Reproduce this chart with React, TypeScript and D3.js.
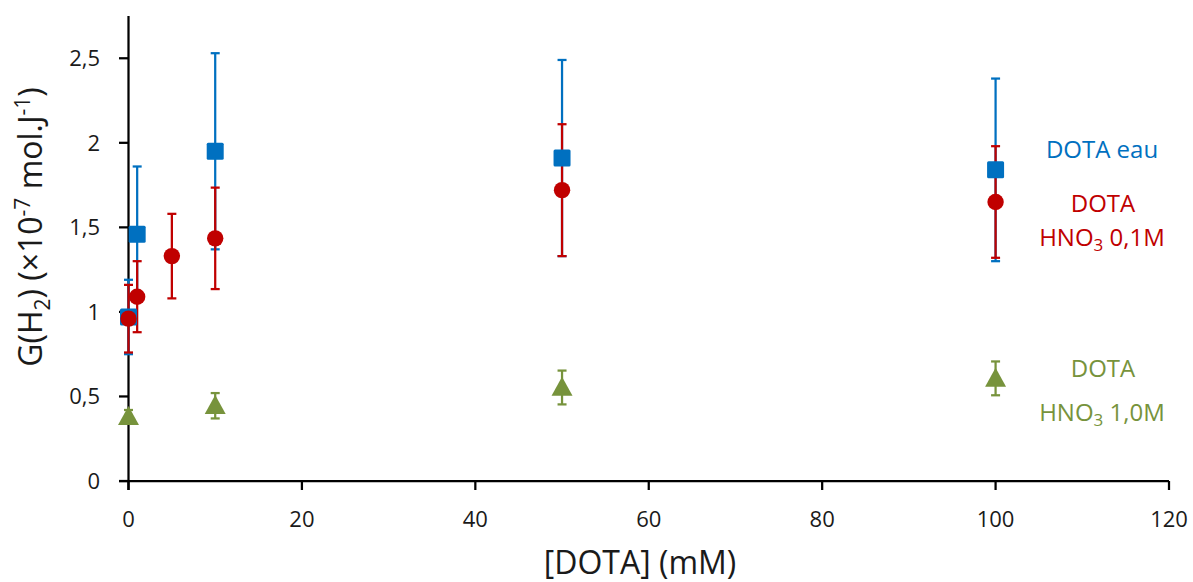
import React from "react";
import * as d3 from "d3";

// ---- data ----
const concEau = [0, 1, 10, 50, 100];
const gEau = [0.97, 1.46, 1.95, 1.91, 1.84];
const errEau = [0.22, 0.4, 0.58, 0.58, 0.54];

const concHno01 = [0, 1, 5, 10, 50, 100];
const gHno01 = [0.96, 1.09, 1.33, 1.435, 1.72, 1.65];
const errHno01 = [0.2, 0.21, 0.25, 0.3, 0.39, 0.33];

const concHno10 = [0, 10, 50, 100];
const gHno10 = [0.38, 0.445, 0.553, 0.607];
const errHno10 = [0.04, 0.075, 0.1, 0.1];

const xTicks = [0, 20, 40, 60, 80, 100, 120];
const yTicks = [0, 0.5, 1, 1.5, 2, 2.5];

const BLUE = "#0070C0";
const RED = "#C00000";
const GREEN = "#77933C";
const FONT = "'Open Sans', 'Noto Sans', sans-serif";

const W = 1193;
const H = 582;

export default function App() {
  const x = d3.scaleLinear().domain([0, 120]).range([128.5, 1169]);
  const y = d3.scaleLinear().domain([0, 2.75]).range([481, 16]);

  const series = [
    { conc: concEau, g: gEau, err: errEau, color: BLUE, shape: "square" },
    { conc: concHno01, g: gHno01, err: errHno01, color: RED, shape: "circle" },
    { conc: concHno10, g: gHno10, err: errHno10, color: GREEN, shape: "triangle" },
  ];

  const capHalf = 4.5;

  const errorBars = series.map((s, si) => (
    <g key={"e" + si} stroke={s.color} strokeWidth={2.25} fill="none">
      {s.conc.map((c, i) => {
        const cx = x(c);
        const y1 = y(s.g[i] + s.err[i]);
        const y2 = y(s.g[i] - s.err[i]);
        return (
          <g key={i}>
            <line x1={cx} x2={cx} y1={y1} y2={y2} />
            <line x1={cx - capHalf} x2={cx + capHalf} y1={y1} y2={y1} />
            <line x1={cx - capHalf} x2={cx + capHalf} y1={y2} y2={y2} />
          </g>
        );
      })}
    </g>
  ));

  const markers = series.map((s, si) => (
    <g key={"m" + si} fill={s.color}>
      {s.conc.map((c, i) => {
        const cx = x(c);
        const cy = y(s.g[i]);
        if (s.shape === "square")
          return <rect key={i} x={cx - 8.5} y={cy - 8.5} width={17} height={17} rx={1.5} />;
        if (s.shape === "circle") return <circle key={i} cx={cx} cy={cy} r={8.2} />;
        const tri = d3.symbol(d3.symbolTriangle, 190)();
        return <path key={i} d={tri as string} transform={`translate(${cx},${cy + 2}) scale(1,1.05)`} />;
      })}
    </g>
  ));

  const fmt = (v: number) => String(v).replace(".", ",");

  return (
    <svg
      width={W}
      height={H}
      style={{ position: "absolute", left: 0, top: 0, background: "#fff" }}
      fontFamily={FONT}
    >
      <rect x={0} y={0} width={W} height={H} fill="#fff" />

      {/* axes */}
      <g stroke="#000" strokeWidth={2.25}>
        <line x1={x(0)} x2={x(0)} y1={y(2.75)} y2={490} />
        <line x1={119} x2={x(120)} y1={y(0)} y2={y(0)} />
        {yTicks.map((t) => (
          <line key={"yt" + t} x1={119} x2={x(0)} y1={y(t)} y2={y(t)} />
        ))}
        {xTicks.map((t) => (
          <line key={"xt" + t} x1={x(t)} x2={x(t)} y1={y(0)} y2={490} />
        ))}
      </g>

      {/* tick labels */}
      <g fontSize={22} fill="#1a1a1a">
        {yTicks.map((t) => (
          <text key={"yl" + t} x={100} y={y(t)} dy="0.36em" textAnchor="end">
            {fmt(t)}
          </text>
        ))}
        {xTicks.map((t) => (
          <text key={"xl" + t} x={x(t)} y={527} textAnchor="middle">
            {fmt(t)}
          </text>
        ))}
      </g>

      {/* axis titles */}
      <text x={640} y={574} textAnchor="middle" fontSize={32} fill="#1a1a1a">
        [DOTA] (mM)
      </text>
      <text
        transform="translate(42,227) rotate(-90)"
        textAnchor="middle"
        fontSize={32}
        fill="#1a1a1a"
      >
        G(H
        <tspan dy={8} fontSize={21}>2</tspan>
        <tspan dy={-8}>) (×10</tspan>
        <tspan dy={-12} fontSize={21}>-7</tspan>
        <tspan dy={12}> mol.J</tspan>
        <tspan dy={-12} fontSize={21}>-1</tspan>
        <tspan dy={12}>)</tspan>
      </text>

      {/* data */}
      {errorBars}
      {markers}

      {/* series labels */}
      <g fontSize={24} textAnchor="middle">
        <text x={1102} y={158} fill={BLUE}>DOTA eau</text>
        <text x={1103} y={212} fill={RED}>DOTA</text>
        <text x={1102} y={246} fill={RED}>
          HNO<tspan dy={5} fontSize={17}>3</tspan>
          <tspan dy={-5}> 0,1M</tspan>
        </text>
        <text x={1103} y={377} fill={GREEN}>DOTA</text>
        <text x={1102} y={421} fill={GREEN}>
          HNO<tspan dy={5} fontSize={17}>3</tspan>
          <tspan dy={-5}> 1,0M</tspan>
        </text>
      </g>
    </svg>
  );
}
